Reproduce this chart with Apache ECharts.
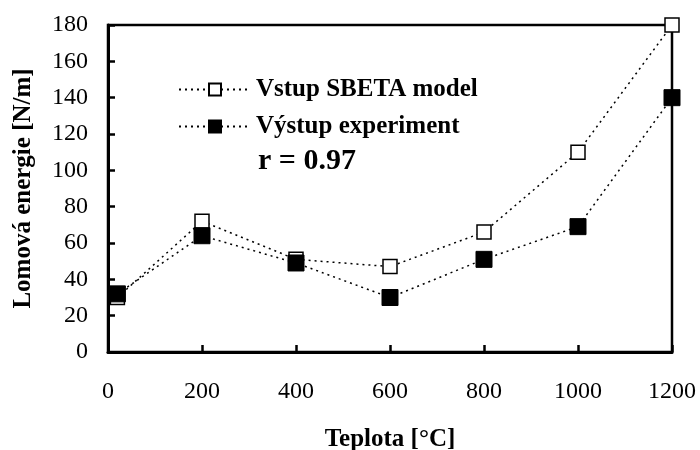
<!DOCTYPE html>
<html><head><meta charset="utf-8">
<script src="https://cdn.jsdelivr.net/npm/echarts@6/dist/echarts.min.js"></script>
<style>html,body{margin:0;padding:0;background:#fff}#c{width:700px;height:450px}</style>
</head><body><div id="c"></div>
<script>
const temps = [20, 200, 400, 600, 800, 1000, 1200];
const vstup = [30, 72, 51, 47, 66, 110, 180];
const vystup = [32, 64, 49, 30, 51, 69, 140];
const seriesNames = ['Vstup SBETA model', 'Výstup experiment'];
const xTicks = [0, 200, 400, 600, 800, 1000, 1200];
const yTicks = [0, 20, 40, 60, 80, 100, 120, 140, 160, 180];
const FONT = '"Liberation Serif", "Times New Roman", serif';

const chart = echarts.init(document.getElementById('c'));
const pair = (xs, ys) => xs.map((x, i) => [x, ys[i]]);
chart.setOption({
  animation: false,
  grid: {left: 108, right: 28, top: 25, bottom: 98, containLabel: false, outerBoundsMode: 'none',
         show: true, borderColor: '#000', borderWidth: 2.5},
  xAxis: {
    type: 'value', min: xTicks[0], max: xTicks[xTicks.length - 1], interval: 200,
    name: 'Teplota [°C]', nameLocation: 'middle', nameGap: 75,
    nameTextStyle: {fontFamily: FONT, fontWeight: 'bold', fontSize: 25, color: '#000'},
    axisLine: {show: true, onZero: false, lineStyle: {color: '#000', width: 3}},
    axisTick: {show: true, inside: true, length: 7, lineStyle: {color: '#000', width: 2.5}},
    axisLabel: {fontFamily: FONT, fontSize: 24, color: '#000', margin: 28, formatter: v => String(v)},
    splitLine: {show: false}
  },
  yAxis: {
    type: 'value', min: yTicks[0], max: yTicks[yTicks.length - 1], interval: 20,
    name: 'Lomová energie [N/m]', nameLocation: 'middle', nameGap: 72,
    nameTextStyle: {fontFamily: FONT, fontWeight: 'bold', fontSize: 25, color: '#000'},
    axisLine: {show: true, lineStyle: {color: '#000', width: 3}},
    axisTick: {show: true, inside: true, length: 7, lineStyle: {color: '#000', width: 2.5}},
    axisLabel: {fontFamily: FONT, fontSize: 24, color: '#000', margin: 20, formatter: v => String(v)},
    splitLine: {show: false}
  },
  legend: {
    orient: 'vertical', left: 173, top: 72, itemGap: 12, itemWidth: 72, itemHeight: 15,
    textStyle: {fontFamily: FONT, fontWeight: 'bold', fontSize: 25, color: '#000'},
    data: seriesNames
  },
  graphic: [{
    type: 'text', left: 258, top: 146,
    style: {text: 'r = 0.97', font: 'bold 30px ' + FONT, fill: '#000'}
  }],
  series: [
    {
      name: seriesNames[0], type: 'line', data: pair(temps, vstup),
      symbol: 'rect', symbolSize: 14,
      itemStyle: {color: '#fff', borderColor: '#000', borderWidth: 1.5},
      lineStyle: {color: '#000', width: 1.5, type: [2, 4]}
    },
    {
      name: seriesNames[1], type: 'line', data: pair(temps, vystup),
      symbol: 'rect', symbolSize: 16,
      itemStyle: {color: '#000', borderColor: '#000', borderWidth: 1},
      lineStyle: {color: '#000', width: 1.5, type: [2, 4]}
    }
  ]
});
</script></body></html>
